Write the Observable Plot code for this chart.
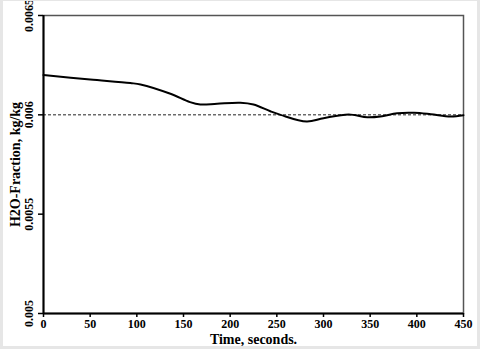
<!DOCTYPE html>
<html><head><meta charset="utf-8">
<script src="https://cdn.jsdelivr.net/npm/d3@7"></script>
<script src="https://cdn.jsdelivr.net/npm/@observablehq/plot@0.6"></script>
<style>
html,body{margin:0;padding:0;background:#fff;}
#wrap{position:relative;width:480px;height:349px;overflow:hidden;}
#frame{position:absolute;left:0;top:0;width:480px;height:349px;box-sizing:border-box;border:3px solid #e6e6e6;border-top-width:1px;pointer-events:none;}
</style></head><body><div id="wrap"><div id="frame"></div></div>
<script>
const time = [0, 50, 93, 104, 136, 157, 168, 186, 211, 225, 243, 254, 282, 300, 327, 347, 361, 379, 397, 415, 436, 450];
const fraction = [0.00620, 0.006178, 0.00616, 0.006153, 0.006106, 0.006064, 0.006052, 0.006056, 0.006061, 0.006052, 0.006018, 0.006000, 0.005966, 0.005983, 0.006002, 0.005988, 0.005992, 0.006008, 0.006010, 0.006003, 0.005992, 0.005998];
const xTicks = [0, 50, 100, 150, 200, 250, 300, 350, 400, 450];
const yTicks = [0.005, 0.0055, 0.006, 0.0065];
const reference = 0.006;
const xLabel = "Time, seconds.";
const yLabel = "H2O-Fraction, kg/kg";

const data = time.map((t, i) => ({t, v: fraction[i]}));
const font = "'Liberation Serif', 'Times New Roman', serif";

const chart = Plot.plot({
  width: 480, height: 349,
  marginLeft: 43, marginRight: 17, marginTop: 15, marginBottom: 36,
  style: {fontFamily: font, fontSize: "12px", fontWeight: "bold", color: "#000", background: "transparent"},
  x: {domain: [0, 450]},
  y: {domain: [0.005, 0.0065]},
  marks: [
    Plot.frame({stroke: "#555", strokeWidth: 1.5}),
    Plot.ruleY([reference], {stroke: "#222", strokeWidth: 1, strokeDasharray: "3,2"}),
    Plot.line(data, {x: "t", y: "v", curve: "catmull-rom", stroke: "#000", strokeWidth: 2}),
    Plot.ruleX([0], {stroke: "#000", strokeWidth: 2}),
    Plot.ruleY([0.005], {stroke: "#000", strokeWidth: 2}),
    Plot.axisX({ticks: xTicks, tickSize: 4, tickPadding: 2, stroke: "#000", strokeWidth: 1.5,
      label: xLabel, labelAnchor: "center", labelArrow: "none", labelOffset: 30}),
    Plot.axisY({ticks: yTicks, tickFormat: d => String(d), tickRotate: -90, tickSize: 5, tickPadding: 6,
      stroke: "#000", strokeWidth: 1.5,
      label: yLabel, labelAnchor: "center", labelArrow: "none", labelOffset: 33})
  ]
});
document.getElementById("wrap").prepend(chart);
d3.select(chart).selectAll('[aria-label="x-axis label"] text, [aria-label="y-axis label"] text')
  .style("font-size", "14px");
d3.select(chart).selectAll('[aria-label="y-axis tick label"]')
  .attr("text-anchor", "middle");
d3.select(chart).selectAll('[aria-label="y-axis tick label"] text')
  .attr("text-anchor", "middle");
</script>
</body></html>
